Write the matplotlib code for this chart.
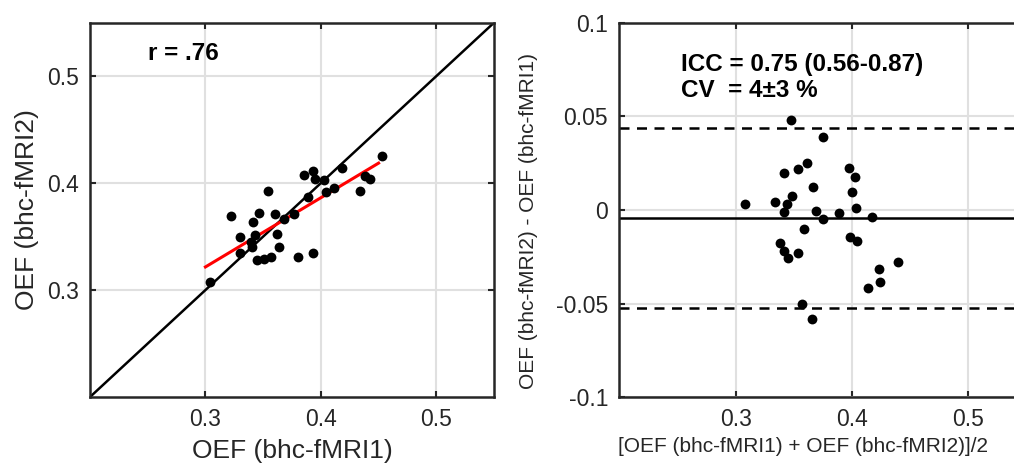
import matplotlib
matplotlib.use('Agg')
import matplotlib.pyplot as plt

plt.rcParams['font.family'] = ['Liberation Sans', 'DejaVu Sans']

# %% data
# left panel: OEF scan 1 vs scan 2
oef1 = [0.3041, 0.3221, 0.3296, 0.3296, 0.3413, 0.3465, 0.3427, 0.3398,
        0.3407, 0.3448, 0.3506, 0.3564, 0.3538, 0.3599, 0.3619, 0.3634,
        0.3680, 0.3767, 0.3802, 0.3933, 0.3887, 0.3854, 0.3933, 0.3948,
        0.4023, 0.4046, 0.4116, 0.4183, 0.4343, 0.4386, 0.4430, 0.4534]
oef2 = [0.3077, 0.3696, 0.3497, 0.3342, 0.3634, 0.3720, 0.3513, 0.3450,
        0.3398, 0.3280, 0.3289, 0.3311, 0.3926, 0.3714, 0.3522, 0.3404,
        0.3668, 0.3708, 0.3305, 0.3348, 0.3870, 0.4078, 0.4109, 0.4037,
        0.4025, 0.3913, 0.3957, 0.4143, 0.3925, 0.4069, 0.4041, 0.4255]
fit_x = [0.300, 0.450]
fit_y = [0.3216, 0.4187]
r_text = 'r = .76'

# right panel: Bland-Altman
ba_mean = [0.3080, 0.3338, 0.3438, 0.3418, 0.3484, 0.3476, 0.3415, 0.3536,
           0.3610, 0.3670, 0.3688, 0.3751, 0.3754, 0.3587, 0.3378, 0.3413,
           0.3453, 0.3536, 0.3567, 0.3656, 0.3891, 0.3977, 0.4029, 0.4003,
           0.4032, 0.3986, 0.4046, 0.4169, 0.4140, 0.4229, 0.4241, 0.4398]
ba_diff = [0.0032, 0.0041, 0.0034, -0.0009, 0.0073, 0.0479, 0.0200, 0.0220,
           0.0252, 0.0121, -0.0005, 0.0391, -0.0050, -0.0100, -0.0175, -0.0218,
           -0.0257, -0.0232, -0.0500, -0.0584, -0.0018, 0.0223, 0.0175, 0.0095,
           0.0009, -0.0143, -0.0166, -0.0038, -0.0414, -0.0316, -0.0384, -0.0279]
bias = -0.0043
loa_upper = 0.0437
loa_lower = -0.0521
icc_text = 'ICC = 0.75 (0.56-0.87)\nCV  = 4\u00b13 %'

# %% plot
fig = plt.figure(figsize=(10.14, 4.66), dpi=100)
ax1 = fig.add_axes([90/1014, 1-397/466, 404/1014, 374.3/466])
ax2 = fig.add_axes([619.3/1014, 1-397.3/466, 407/1014, 374.6/466])

def style(ax):
    ax.grid(True, color='#e0e0e0', linewidth=1.5)
    ax.set_axisbelow(True)
    for s in ax.spines.values():
        s.set_color('#262626')
        s.set_linewidth(1.8)
    ax.tick_params(direction='in', length=4, width=1.5, color='#262626',
                   top=True, right=True, labelsize=16.5, labelcolor='#262626', pad=8)

style(ax1)
ax1.plot([0.2, 0.55], [0.2, 0.55], color='black', linewidth=1.8)
ax1.plot(fit_x, fit_y, color='#ff0000', linewidth=2.2)
ax1.scatter(oef1, oef2, s=50, color='black', zorder=3, linewidths=0)
ax1.set_xlim(0.2, 0.55)
ax1.set_ylim(0.2, 0.55)
ax1.set_xticks([0.3, 0.4, 0.5])
ax1.set_yticks([0.3, 0.4, 0.5])
ax1.set_xticklabels(['0.3', '0.4', '0.5'])
ax1.set_yticklabels(['0.3', '0.4', '0.5'])
ax1.set_xlabel('OEF (bhc-fMRI1)', fontsize=19, color='#262626', labelpad=6)
ax1.set_ylabel('OEF (bhc-fMRI2)', fontsize=19, color='#262626', labelpad=6)
ax1.text(0.2506, 0.521, r_text, fontsize=17.5, fontweight='bold', va='center')

style(ax2)
ax2.axhline(bias, color='black', linewidth=1.8)
ax2.axhline(loa_upper, color='black', linewidth=1.8, linestyle=(0, (4, 3)))
ax2.axhline(loa_lower, color='black', linewidth=1.8, linestyle=(0, (4, 3)))
ax2.scatter(ba_mean, ba_diff, s=50, color='black', zorder=3, linewidths=0)
ax2.set_xlim(0.2, 0.55)
ax2.set_ylim(-0.1, 0.1)
ax2.set_xticks([0.3, 0.4, 0.5])
ax2.set_yticks([-0.1, -0.05, 0, 0.05, 0.1])
ax2.set_xticklabels(['0.3', '0.4', '0.5'])
ax2.set_yticklabels(['-0.1', '-0.05', '0', '0.05', '0.1'])
ax2.set_xlabel('[OEF (bhc-fMRI1) + OEF (bhc-fMRI2)]/2', fontsize=15, color='#262626')
ax2.set_ylabel('OEF (bhc-fMRI2) - OEF (bhc-fMRI1)', fontsize=15, color='#262626')
ax2.xaxis.set_label_coords((803 - 619.3) / 407, -0.106)
ax2.yaxis.set_label_coords(-0.2, 0.47)
ax2.text(0.2532, 0.0839, icc_text, fontsize=17.5, fontweight='bold', va='top',
         linespacing=1.18, transform=ax2.transData)

fig.savefig('out.png', dpi=100)
